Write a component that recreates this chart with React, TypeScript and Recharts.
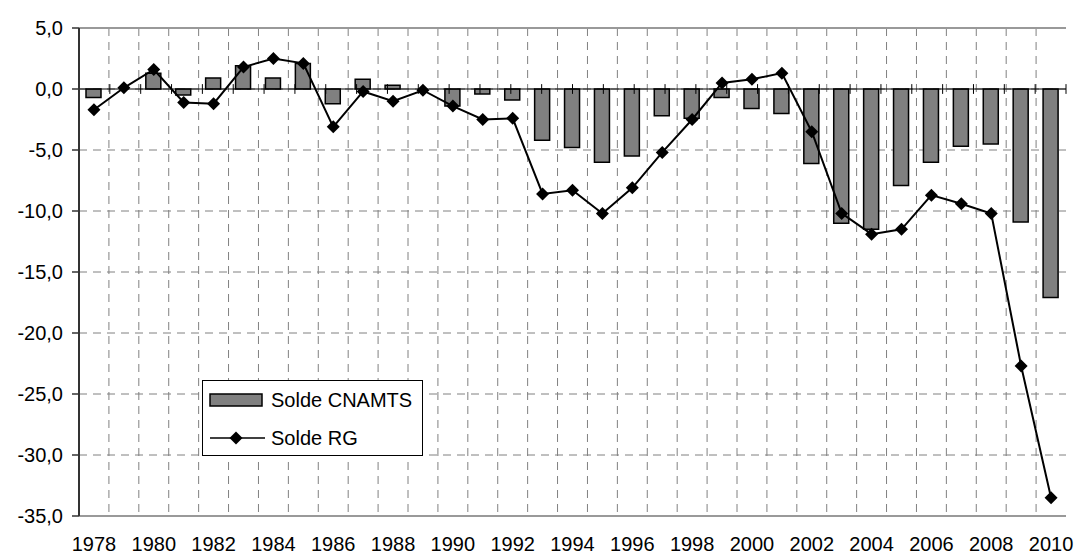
import { ComposedChart, Bar, Line, XAxis, YAxis, CartesianGrid, ReferenceLine } from 'recharts';

const years = [
  '1978', '1979', '1980', '1981', '1982', '1983', '1984', '1985', '1986', '1987', '1988',
  '1989', '1990', '1991', '1992', '1993', '1994', '1995', '1996', '1997', '1998', '1999',
  '2000', '2001', '2002', '2003', '2004', '2005', '2006', '2007', '2008', '2009', '2010',
];

// Solde CNAMTS (barres)
const soldeCnamts = [
  -0.7, 0, 1.3, -0.5, 0.9, 1.9, 0.9, 2.1, -1.2, 0.8, 0.3,
  0, -1.4, -0.4, -0.9, -4.2, -4.8, -6.0, -5.5, -2.2, -2.4, -0.7,
  -1.6, -2.0, -6.1, -11.0, -11.5, -7.9, -6.0, -4.7, -4.5, -10.9, -17.1,
];

// Solde RG (ligne)
const soldeRg = [
  -1.7, 0.1, 1.6, -1.1, -1.2, 1.8, 2.5, 2.1, -3.1, -0.2, -1.0,
  -0.1, -1.4, -2.5, -2.4, -8.6, -8.3, -10.2, -8.1, -5.2, -2.5, 0.5,
  0.8, 1.3, -3.5, -10.2, -11.9, -11.5, -8.7, -9.4, -10.2, -22.7, -33.5,
];

const yTicks = [5, 0, -5, -10, -15, -20, -25, -30, -35];

const chartData = years.map((year, i) => ({
  year,
  cnamts: soldeCnamts[i],
  rg: soldeRg[i],
}));

// limites entre catégories (graduations sur l'axe 0)
const boundaries = years.slice(1).map((_, i) => i + 1);

const FONT = '"Liberation Sans", Arial, sans-serif';

const Diamond = (props: any) => {
  const { cx, cy, index } = props;
  if (cx == null || cy == null) return null;
  const r = 6.5;
  return (
    <polygon
      key={`d-${index}`}
      points={`${cx},${cy - r} ${cx + r},${cy} ${cx},${cy + r} ${cx - r},${cy}`}
      fill="#000"
    />
  );
};

const LegendBox = () => (
  <svg
    width={221}
    height={76}
    style={{ position: 'absolute', left: 202, top: 380 }}
  >
    <rect x={0.5} y={0.5} width={220} height={75} fill="#fff" stroke="#000" strokeWidth={1} />
    <rect x={8} y={14} width={52} height={12} fill="#808080" stroke="#000" strokeWidth={1.5} />
    <text x={69} y={27} fontSize={20} fontFamily={FONT} fill="#000">Solde CNAMTS</text>
    <line x1={8} y1={58} x2={63} y2={58} stroke="#000" strokeWidth={1.5} />
    <polygon points="34,51.5 40.5,58 34,64.5 27.5,58" fill="#000" />
    <text x={69} y={65} fontSize={20} fontFamily={FONT} fill="#000">Solde RG</text>
  </svg>
);

export default function App() {
  return (
    <div style={{ position: 'absolute', left: 0, top: 0, width: 1078, height: 556, background: '#fff' }}>
      <ComposedChart
        width={1078}
        height={556}
        data={chartData}
        margin={{ top: 28, right: 12, bottom: 0, left: 0 }}
        barSize={15}
      >
        <CartesianGrid
          stroke="#808080"
          strokeDasharray="8 6"
          verticalCoordinatesGenerator={({ offset }: any) =>
            boundaries.map((b) => offset.left + (b * offset.width) / years.length)
          }
        />
        <XAxis
          dataKey="year"
          interval={1}
          tickLine={false}
          tickSize={0}
          tickMargin={21}
          height={40}
          axisLine={{ stroke: '#999', strokeWidth: 2 }}
          tick={{ fill: '#000', fontSize: 20, fontFamily: FONT }}
        />
        <XAxis xAxisId="idx" type="number" domain={[0, years.length]} hide />
        <YAxis
          domain={[-35, 5]}
          ticks={yTicks}
          interval={0}
          width={79}
          tickSize={7}
          tickMargin={9}
          axisLine={{ stroke: '#333', strokeWidth: 2 }}
          tickLine={{ stroke: '#333', strokeWidth: 1.5 }}
          tick={{ fill: '#000', fontSize: 20, fontFamily: FONT }}
          tickFormatter={(v: number) => v.toFixed(1).replace('.', ',')}
        />
        <ReferenceLine y={5} stroke="#999" strokeWidth={2} />
        <ReferenceLine x={years.length} xAxisId="idx" stroke="#999" strokeWidth={2} />
        <Bar dataKey="cnamts" name="Solde CNAMTS" fill="#808080" stroke="#000" strokeWidth={1.5} isAnimationActive={false} />
        <ReferenceLine y={0} stroke="#000" strokeWidth={1} />
        {boundaries.map((b) => (
          <ReferenceLine
            key={b}
            xAxisId="idx"
            segment={[{ x: b, y: -0.4 }, { x: b, y: 0.4 }]}
            stroke="#000"
            strokeWidth={1}
          />
        ))}
        <Line
          dataKey="rg"
          name="Solde RG"
          stroke="#000"
          strokeWidth={2}
          dot={Diamond}
          activeDot={false}
          isAnimationActive={false}
        />
      </ComposedChart>
      <LegendBox />
    </div>
  );
}
